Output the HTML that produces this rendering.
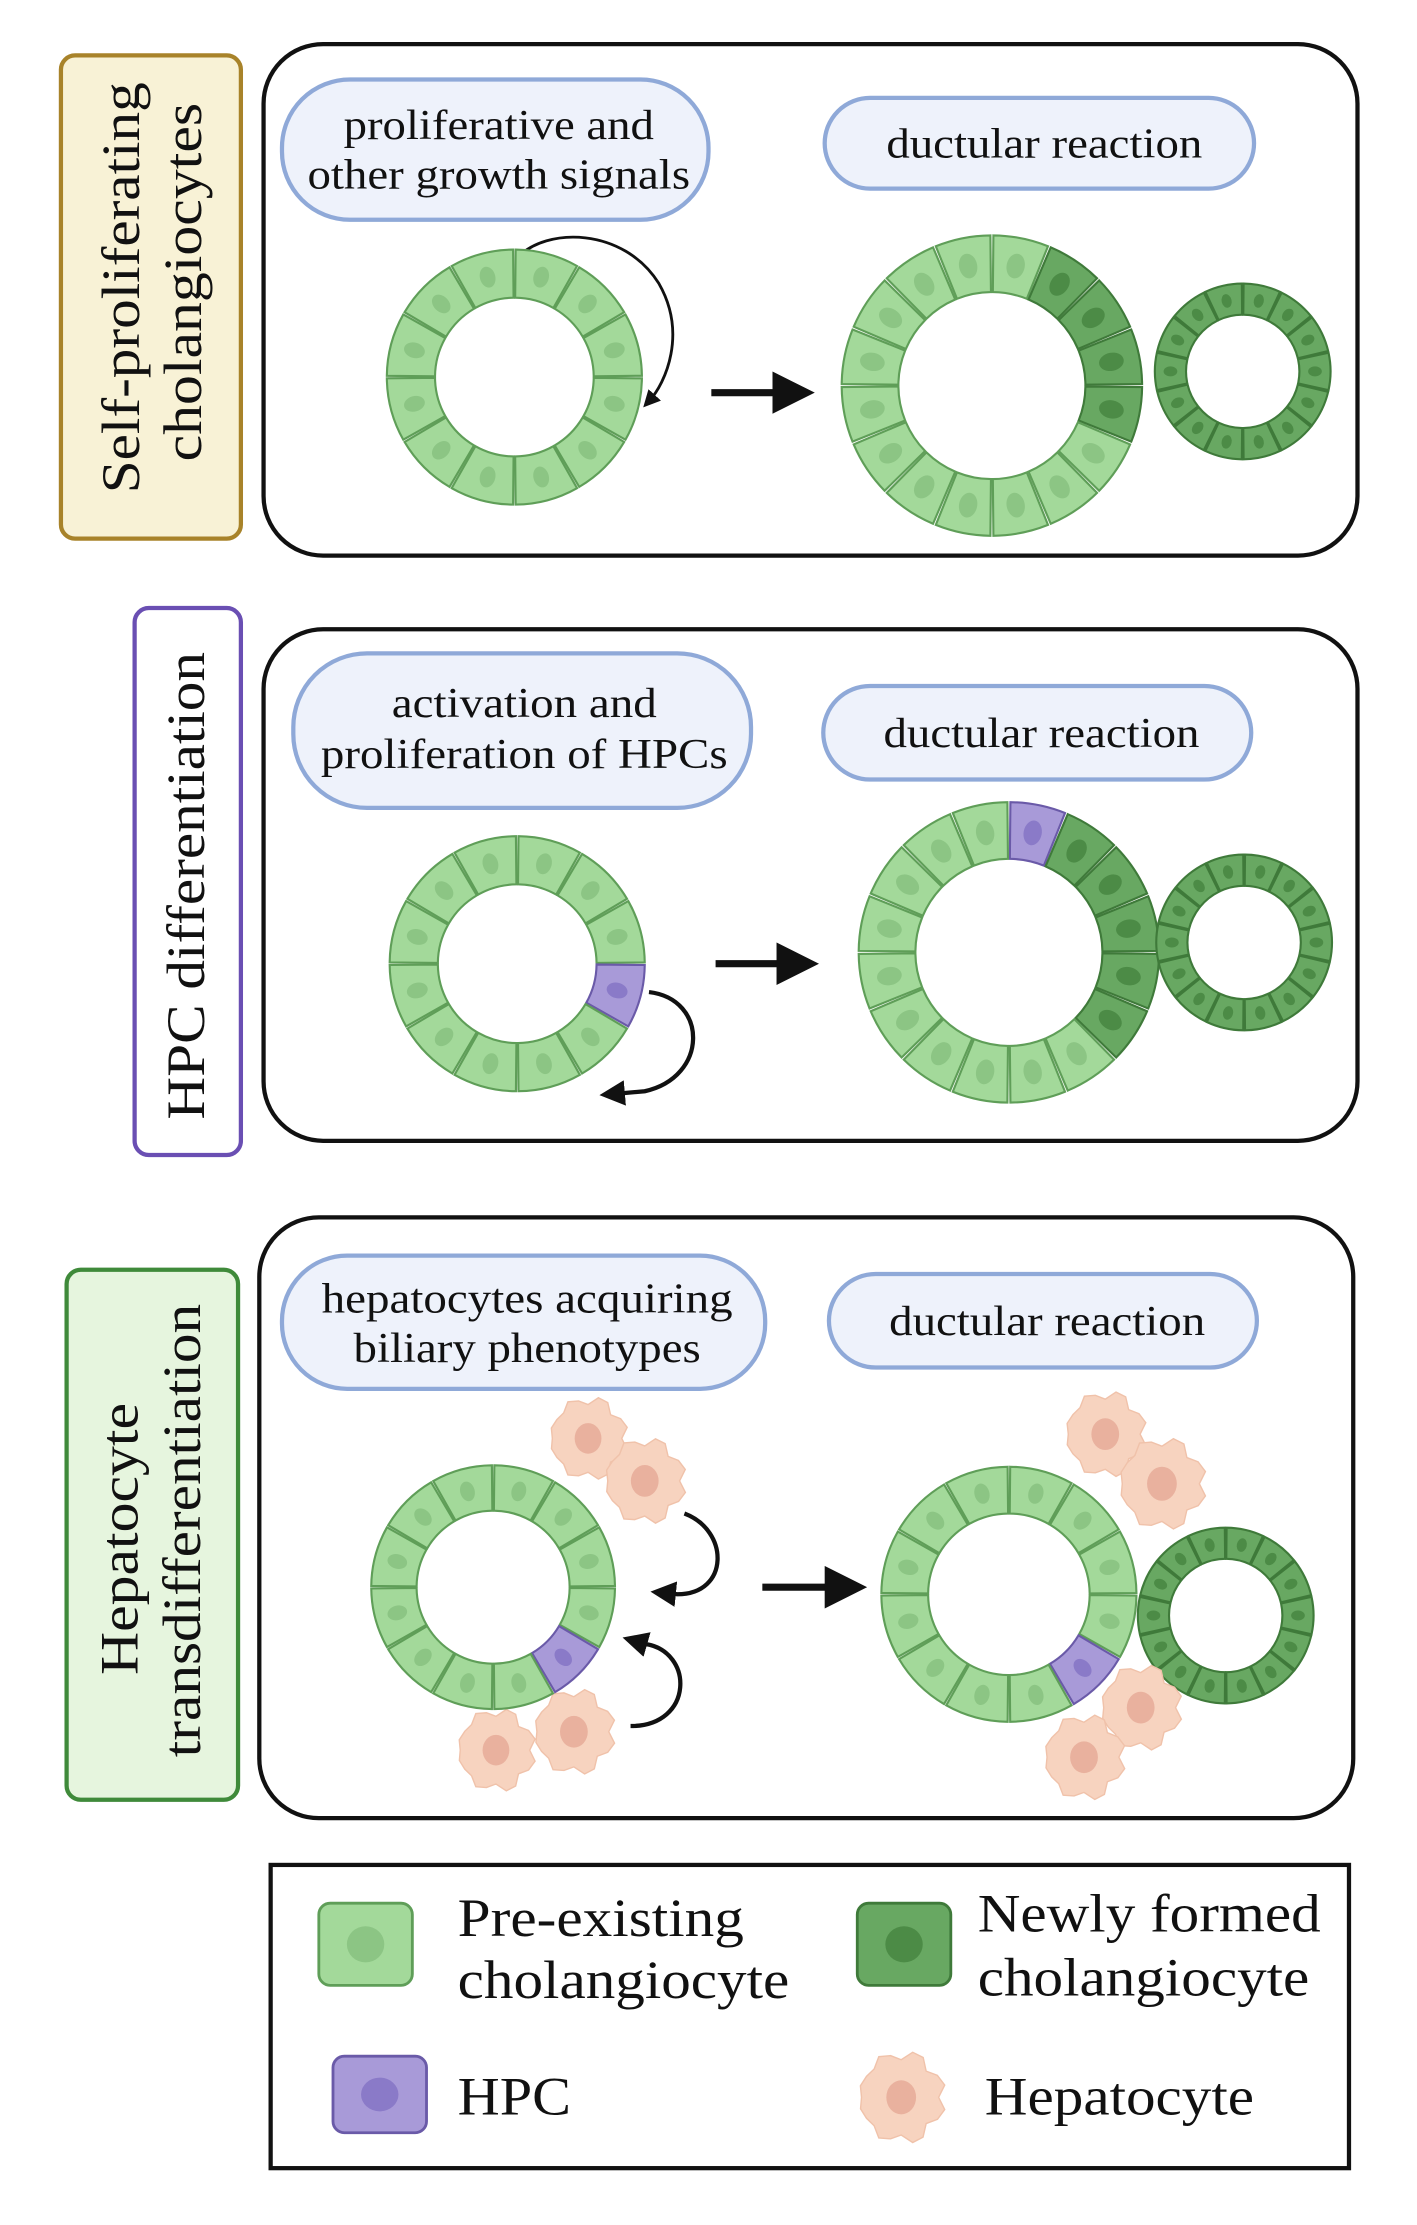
<!DOCTYPE html>
<html><head><meta charset="utf-8"><style>
html,body{margin:0;padding:0;background:#fff}
svg{display:block}
text{font-family:"Liberation Serif",serif;fill:#111}
</style></head><body>
<svg id="s" width="1417" height="2225" viewBox="0 0 1000 1570" xmlns="http://www.w3.org/2000/svg">
<defs>
<marker id="ah" markerWidth="6" markerHeight="6" refX="3" refY="3" orient="auto" markerUnits="strokeWidth"><path d="M0,0 L6,3 L0,6 Z" fill="#111"/></marker>
</defs>
<!-- Panel 1 -->
<rect x="186" y="31" width="772" height="361" rx="42" fill="#fff" stroke="#111" stroke-width="3"/>
<rect x="43" y="39" width="127" height="341" rx="10" fill="#f8f2d6" stroke="#a8832a" stroke-width="3"/>
<text transform="translate(98,203) rotate(-90)" text-anchor="middle" font-size="38" textLength="290" lengthAdjust="spacingAndGlyphs">Self-proliferating</text>
<text transform="translate(142,199) rotate(-90)" text-anchor="middle" font-size="38" textLength="253" lengthAdjust="spacingAndGlyphs">cholangiocytes</text>
<rect x="199" y="56" width="301" height="99" rx="48" fill="#eef2fb" stroke="#8fa9d8" stroke-width="3"/>
<text x="352" y="98" text-anchor="middle" font-size="30" textLength="219" lengthAdjust="spacingAndGlyphs">proliferative and</text>
<text x="352" y="133" text-anchor="middle" font-size="30" textLength="270" lengthAdjust="spacingAndGlyphs">other growth signals</text>
<rect x="582" y="69" width="303" height="64" rx="32" fill="#eef2fb" stroke="#8fa9d8" stroke-width="3"/>
<text x="737" y="111" text-anchor="middle" font-size="30" textLength="223" lengthAdjust="spacingAndGlyphs">ductular reaction</text>
<path d="M365,182 C385,160 440,160 465,200 C485,235 470,270 458,283" fill="none" stroke="#111" stroke-width="2" marker-end="url(#ah)"/>
<path d="M502,277 L560,277" stroke="#111" stroke-width="5" marker-end="url(#ah)"/>

<!-- Panel 2 -->
<rect x="186" y="444" width="772" height="361" rx="42" fill="#fff" stroke="#111" stroke-width="3"/>
<rect x="95" y="429" width="75" height="386" rx="10" fill="#fff" stroke="#6a4fb3" stroke-width="3"/>
<text transform="translate(144,625) rotate(-90)" text-anchor="middle" font-size="38" textLength="330" lengthAdjust="spacingAndGlyphs">HPC differentiation</text>
<rect x="207" y="461" width="323" height="109" rx="52" fill="#eef2fb" stroke="#8fa9d8" stroke-width="3"/>
<text x="370" y="506" text-anchor="middle" font-size="30" textLength="187" lengthAdjust="spacingAndGlyphs">activation and</text>
<text x="370" y="542" text-anchor="middle" font-size="30" textLength="287" lengthAdjust="spacingAndGlyphs">proliferation of HPCs</text>
<rect x="581" y="484" width="302" height="66" rx="33" fill="#eef2fb" stroke="#8fa9d8" stroke-width="3"/>
<text x="735" y="527" text-anchor="middle" font-size="30" textLength="223" lengthAdjust="spacingAndGlyphs">ductular reaction</text>
<path d="M458,700 C500,705 500,760 455,770 L432,772" fill="none" stroke="#111" stroke-width="3" marker-end="url(#ah)"/>
<path d="M505,680 L563,680" stroke="#111" stroke-width="5" marker-end="url(#ah)"/>

<!-- Panel 3 -->
<rect x="183" y="859" width="772" height="424" rx="42" fill="#fff" stroke="#111" stroke-width="3"/>
<rect x="47" y="896" width="121" height="374" rx="10" fill="#e6f5de" stroke="#3f8a3a" stroke-width="3"/>
<text transform="translate(97,1086) rotate(-90)" text-anchor="middle" font-size="38" textLength="192" lengthAdjust="spacingAndGlyphs">Hepatocyte</text>
<text transform="translate(141,1080) rotate(-90)" text-anchor="middle" font-size="38" textLength="320" lengthAdjust="spacingAndGlyphs">transdifferentiation</text>
<rect x="199" y="886" width="341" height="94" rx="46" fill="#eef2fb" stroke="#8fa9d8" stroke-width="3"/>
<text x="372" y="926" text-anchor="middle" font-size="30" textLength="290" lengthAdjust="spacingAndGlyphs">hepatocytes acquiring</text>
<text x="372" y="961" text-anchor="middle" font-size="30" textLength="245" lengthAdjust="spacingAndGlyphs">biliary phenotypes</text>
<rect x="585" y="899" width="302" height="66" rx="33" fill="#eef2fb" stroke="#8fa9d8" stroke-width="3"/>
<text x="739" y="942" text-anchor="middle" font-size="30" textLength="223" lengthAdjust="spacingAndGlyphs">ductular reaction</text>
<path d="M483,1068 C515,1080 515,1125 478,1125 L468,1124" fill="none" stroke="#111" stroke-width="3" marker-end="url(#ah)"/>
<path d="M445,1218 C490,1218 490,1165 455,1160 L448,1158" fill="none" stroke="#111" stroke-width="3" marker-end="url(#ah)"/>
<path d="M538,1120 L597,1120" stroke="#111" stroke-width="5" marker-end="url(#ah)"/>

<!-- Legend -->
<rect x="191" y="1316" width="761" height="214" fill="#fff" stroke="#111" stroke-width="3"/>
<text x="323" y="1366" font-size="38" textLength="202" lengthAdjust="spacingAndGlyphs">Pre-existing</text>
<text x="323" y="1410" font-size="38" textLength="234" lengthAdjust="spacingAndGlyphs">cholangiocyte</text>
<text x="690" y="1363" font-size="38" textLength="242" lengthAdjust="spacingAndGlyphs">Newly formed</text>
<text x="690" y="1408" font-size="38" textLength="234" lengthAdjust="spacingAndGlyphs">cholangiocyte</text>
<text x="323" y="1492" font-size="38" textLength="80" lengthAdjust="spacingAndGlyphs">HPC</text>
<text x="695" y="1492" font-size="38" textLength="190" lengthAdjust="spacingAndGlyphs">Hepatocyte</text>
<g id="cells"></g>
</svg>
<script>
var NS="http://www.w3.org/2000/svg",G=document.getElementById('cells');
var C={g:["#a3d99a","#5f9e58","#8cc584"],d:["#68a862","#3f7a3a","#4c8b46"],p:["#a89ad8","#6a5aa8","#8a7ac8"]};
function el(t,a){var e=document.createElementNS(NS,t);for(var k in a)e.setAttribute(k,a[k]);G.appendChild(e);return e;}
function P(cx,cy,r,a){return [cx+r*Math.cos(a),cy+r*Math.sin(a)];}
function ring(cx,cy,ro,ri,n,colf,skip){
 var step=2*Math.PI/n;
 for(var i=0;i<n;i++){
  if(skip&&skip.indexOf(i)>=0)continue;
  var a0=-Math.PI/2+i*step+0.01,a1=a0+step-0.02,am=(a0+a1)/2;
  var c=C[colf(i)];
  var p1=P(cx,cy,ro,a0),p2=P(cx,cy,ro,a1),p3=P(cx,cy,ri,a1),p4=P(cx,cy,ri,a0);
  el('path',{d:"M"+p1+" A"+ro+","+ro+" 0 0 1 "+p2+" L"+p3+" A"+ri+","+ri+" 0 0 0 "+p4+"Z",fill:c[0],stroke:c[1],'stroke-width':1.5});
  var m=P(cx,cy,(ro+ri)/2,am);
  el('ellipse',{cx:m[0],cy:m[1],rx:(ro-ri)*0.16,ry:(ro-ri)*0.22,fill:c[2],transform:"rotate("+(am*180/Math.PI+90)+" "+m[0]+" "+m[1]+")"});
 }
}
function cell(x,y,w,h,k){var c=C[k];el('rect',{x:x-w/2,y:y-h/2,width:w,height:h,rx:8,fill:c[0],stroke:c[1],'stroke-width':2});el('ellipse',{cx:x,cy:y,rx:w*0.2,ry:h*0.22,fill:c[2]});}
function hep(x,y,r){var pts=[];for(var i=0;i<24;i++){var a=i/24*2*Math.PI;var rr=r*(i%3==0?0.88:1)*(1+0.06*Math.sin(i*1.7));pts.push((x+rr*Math.cos(a)).toFixed(1)+","+(y+rr*1.05*Math.sin(a)).toFixed(1));}
 el('polygon',{points:pts.join(' '),fill:"#f7d3bf",stroke:"#f0c2aa",'stroke-width':1});el('ellipse',{cx:x,cy:y,rx:r*0.35,ry:r*0.4,fill:"#e9b19e"});}
ring(363,266,90,56,12,function(){return 'g'});
ring(700,272,106,66,16,function(i){return (i>=1&&i<=4)?'d':'g'});
ring(877,262,62,40,14,function(){return 'd'});
ring(365,680,90,56,12,function(i){return i==3?'p':'g'},[]);
ring(712,672,106,66,16,function(i){return i==0?'p':(i>=1&&i<=5)?'d':'g'});
ring(878,665,62,40,14,function(){return 'd'});
hep(415,1015,27);hep(455,1045,28);hep(350,1235,27);hep(405,1222,28);
ring(348,1120,86,54,12,function(i){return i==4?'p':'g'});
hep(780,1012,28);hep(820,1047,30);
ring(865,1140,62,40,14,function(){return 'd'});
ring(712,1125,90,57,12,function(i){return i==4?'p':'g'});
hep(805,1205,28);hep(765,1240,28);
cell(258,1372,66,58,'g');cell(638,1372,66,58,'d');cell(268,1478,66,54,'p');hep(636,1480,30);
</script>
</body></html>
